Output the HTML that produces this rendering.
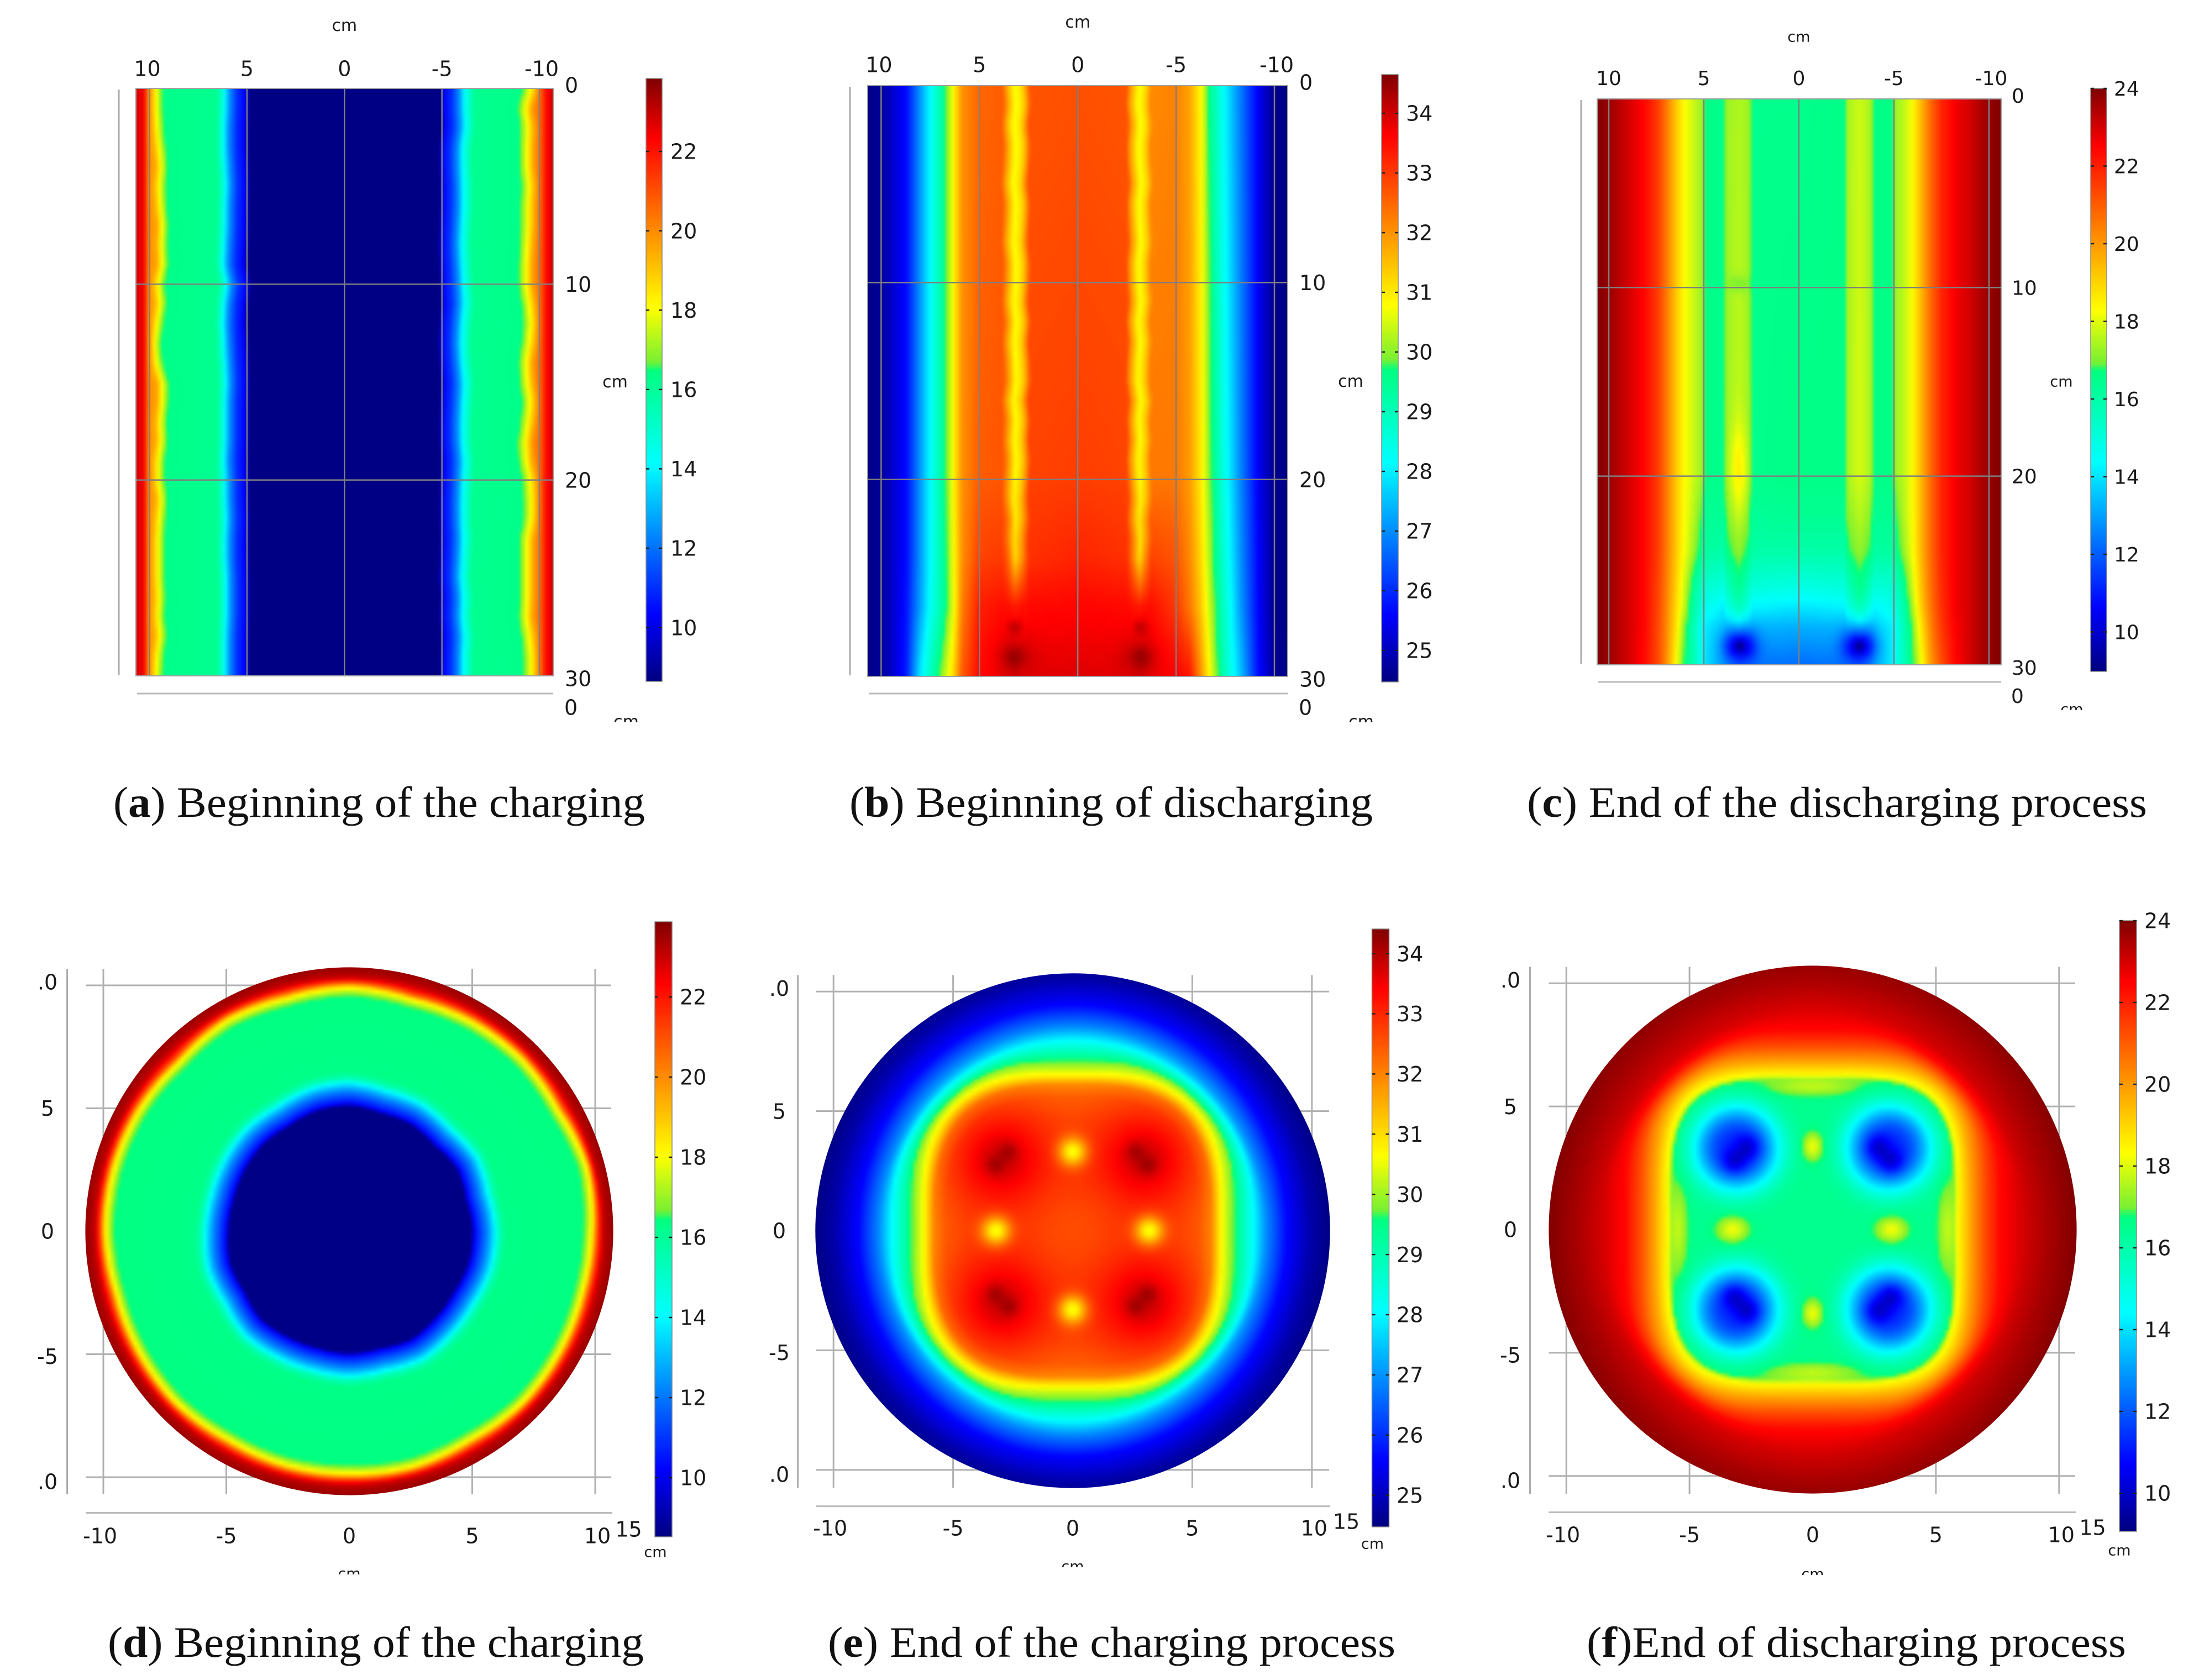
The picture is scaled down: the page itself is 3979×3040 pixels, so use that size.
<!DOCTYPE html>
<html lang="en">
<head>
<meta charset="utf-8">
<title>Temperature distribution during charging and discharging</title>
<style>
html,body{margin:0;padding:0;background:#fff;}
svg{display:block;}
.cap{font-family:"Liberation Serif",serif;font-size:78px;fill:#111;}
.cap tspan{font-weight:bold;}
.lbl{font-family:"DejaVu Sans",sans-serif;fill:#1a1a1a;}
</style>
</head>
<body>
<svg id="figure" xmlns="http://www.w3.org/2000/svg" width="3979" height="3040" viewBox="0 0 3979 3040">
<rect x="0" y="0" width="3979" height="3040" fill="#fff"/>
<g id="plots"></g>
<text class="cap" x="205" y="1478" textLength="962" lengthAdjust="spacingAndGlyphs">(<tspan>a</tspan>) Beginning of the charging</text>
<text class="cap" x="1537" y="1478" textLength="947" lengthAdjust="spacingAndGlyphs">(<tspan>b</tspan>) Beginning of discharging</text>
<text class="cap" x="2763" y="1478" textLength="1122" lengthAdjust="spacingAndGlyphs">(<tspan>c</tspan>) End of the discharging process</text>
<text class="cap" x="195" y="2998" textLength="970" lengthAdjust="spacingAndGlyphs">(<tspan>d</tspan>) Beginning of the charging</text>
<text class="cap" x="1498" y="2998" textLength="1027" lengthAdjust="spacingAndGlyphs">(<tspan>e</tspan>) End of the charging process</text>
<text class="cap" x="2871" y="2998" textLength="976" lengthAdjust="spacingAndGlyphs">(<tspan>f</tspan>)End of discharging process</text>
</svg>
<script>
// ---- colour scale ----
const cmapFractions=[0,0.11,0.36,0.515,0.53,0.62,0.76,0.9,1];
const cmapColors=[[0,0,128],[0,0,255],[0,255,255],[0,255,128],[120,240,50],[255,255,0],[255,128,0],[255,0,0],[128,0,0]];

// ---- shared ticks ----
const stripXTicks=[10,5,0,-5,-10];
const stripXLabels=['10','5','0','-5','-10'];
const stripDepthTicks=[0,10,20,30];
const stripDepthLabels=['0','10','20','30'];
const discXTicks=[-10,-5,0,5,10];
const discXLabels=['-10','-5','0','5','10'];
const discGridTicks=[-10,-5,5,10];
const discYTicks=[10,5,0,-5,-10];
const discYLabels=['.0','5','0','-5','.0'];

// ---- colour bar values ----
const barTicksAD=[22,20,18,16,14,12,10];
const barTicksBE=[34,33,32,31,30,29,28,27,26,25];
const barTicksCF=[24,22,20,18,16,14,12,10];

// ---- panel a: temperature across the width (cm), depth-invariant apart from front wobble ----
const aX=[10.7,10.3,10.05,9.9,9.65,9.45,9.35,9.2,6.6,6.3,6.15,5.9,5.5,5.1,4.97,4.85,-4.95,-5.02,-5.1,-5.5,-5.9,-6.15,-6.5,-6.7,-9.1,-9.3,-9.6,-9.85,-10.05,-10.3,-10.7];
const aDepths=[0,30];
const aTop=[22.8,22.5,20,19.5,18,17,16.6,16.3,16.2,15.2,14.1,12.5,11,10.3,9.5,8.7,8.7,9.5,10.3,11,12.5,14.1,15.5,16.2,16.3,16.9,18.2,19.5,20.6,22,22.9];
const aBottom=[22.8,22.5,20,19.5,18,17,16.6,16.3,16.2,15.2,14.1,12.5,11,10.3,9.5,8.7,8.7,9.5,10.3,11,12.5,14.1,15.5,16.2,16.3,16.9,18.2,19.5,20.6,22,22.9];
const aOuterLeft=[0,0,.05,.15,.25,.15,.2,.3,.25,.3,.1,.2,.05,-.1,0,.3,.3,.2,.25,.1,.1,.25,.15,.1,.1,.1,.15,.1,.2,.05,0];
const aInnerLeft=[0,0,-.05,-.05,0,.05,0,0,-.05,-.1,.1,-.05,-.1,-.05,0,.05,0,0,0,-.05,0,0,.05,0,0,.05,.05,.05,0,0,0];
const aInnerRight=[0,0,-.05,.1,.1,.05,.05,.1,.15,.1,.05,0,.1,.15,.1,0,.05,.1,.1,0,.05,.1,.1,.05,.1,.15,.05,.1,0,.05,.05];
const aOuterRight=[0,.3,.15,.2,.2,.1,.15,.15,.2,.25,.25,.1,0,.1,.25,.2,.05,.15,.3,.25,.05,0,0,.2,.2,.2,.2,.25,.1,0,0];

// ---- panel b ----
const bX=[10.7,10,9.35,8.7,8.06,7.52,6.77,6.34,5.9,5.04,3.85,3.55,3.2,2.85,2.62,2.46,0,-2.5,-2.7,-3.15,-3.5,-3.75,-5,-5.7,-6.27,-6.7,-7.46,-8.3,-9.18,-10,-10.7];
const bDepths=[0,20,24,26.5,30];
const bRow0=[24.5,24.7,25.2,25.7,27,28.1,29.6,30.8,32,32.5,32.6,31.6,30.7,31.2,32,32.7,32.75,32.7,31.9,30.7,31.3,32.1,32.2,31.8,30.8,29.6,28.1,26.8,25.5,24.6,24.5];
const bRow20=[24.5,24.7,25.2,25.7,27,28.1,29.6,30.8,32,32.6,32.7,31.9,30.8,31.4,32.2,32.9,32.95,32.9,32.1,30.8,31.5,32.3,32.3,31.9,31,30,28.4,26.9,25.5,24.6,24.5];
const bRow24=[24.5,24.7,25.2,25.7,27,28.1,29.5,30.7,32,32.9,33,32.5,31.2,32,32.7,33.1,33.25,33.1,32.6,31.2,32.2,32.9,32.7,32.1,31.2,30.2,28.6,27,25.6,24.6,24.5];
const bRow26=[24.5,24.7,25.2,25.8,27.1,28.2,29.5,30.6,32.2,33.3,33.5,33.5,33.4,33.5,33.5,33.55,33.6,33.55,33.5,33.4,33.5,33.5,33,32.3,31.4,30.4,28.8,27.1,25.6,24.6,24.5];
const bRow30=[24.5,24.7,25.2,25.9,27.8,28.9,30.3,31.2,32.6,33.5,33.7,33.75,33.8,33.75,33.75,33.8,33.9,33.8,33.75,33.8,33.75,33.7,33.6,33.4,32,30.8,29,27.5,25.7,24.7,24.5];
const bBandWobble=[0,.08,-.05,.06,.02,-.08,.05,0,-.06,.06,.03,-.05,.08,-.03,.05,.08,-.06,.05,-.02,.06,0,-.05,.05,-.03,.02,0,0,0,0,0,0];
const bSpots=[[3.2,27.5,.6,.25,.25],[-3.2,27.5,.6,.25,.25],[3.2,29,.55,.42,.42],[-3.2,29,.55,.42,.42],[3.2,29,.25,.95,.95],[-3.2,29,.25,.95,.95]];

// ---- panel c ----
const cX=[10.6,10,8.8,8.1,7.4,7,6.45,6.07,5.5,5.05,4.98,3.95,3.8,3.16,2.6,2.48,0,-2.45,-2.56,-3.2,-3.8,-3.92,-4.98,-5.05,-5.5,-5.93,-6.4,-6.95,-7.5,-8.2,-9.1,-9.9,-10.6];
const cDepths=[0,20,22,24,26,27,28,30];
const cRow0=[24,23.7,22.9,22.4,21.5,20.6,19.2,18.4,17.7,17.3,16.6,16.5,17.3,17.5,17.3,16.5,16.5,16.6,17.4,17.8,17.4,16.6,16.6,17.3,17.6,18.2,19.4,20.8,21.9,22.6,23.1,23.7,24];
const cRow20=[24,23.7,22.9,22.4,21.5,20.6,19.2,18.4,17.7,17.3,16.6,16.5,17.3,17.7,17.3,16.5,16.6,16.6,17.4,17.9,17.4,16.6,16.6,17.3,17.6,18.2,19.4,20.8,21.9,22.6,23.1,23.7,24];
const cRow22=[24,23.7,22.9,22.4,21.5,20.6,19.2,18.4,17.5,16.7,16.4,16.3,17,17.5,17,16.3,16.4,16.4,17.1,17.6,17.1,16.4,16.4,16.7,17.5,18.2,19.4,20.8,21.9,22.6,23.1,23.7,24];
const cRow24=[24,23.7,22.9,22.4,21.5,20.6,19.2,18.3,17.2,16.3,16.2,16,16.6,17.15,16.6,16,16,16,16.7,17.2,16.7,16.1,16.2,16.3,17.2,18.1,19.4,20.8,21.9,22.6,23.1,23.7,24];
const cRow26=[24,23.7,22.9,22.4,21.4,20.5,19,17.9,16.2,15.4,15.2,14.9,15.4,16.4,15.4,15,14.8,15,15.5,16.5,15.5,15,15.2,15.4,16.2,17.6,19.2,20.7,21.8,22.6,23.1,23.7,24];
const cRow27=[24,23.7,22.9,22.4,21.4,20.4,18.9,17.8,15.9,15,14.8,14.1,14.8,15.6,14.8,14.2,14,14.2,14.8,15.7,14.8,14.2,14.8,15,15.9,17.2,19,20.6,21.7,22.6,23.1,23.7,24];
const cRow28=[24,23.7,22.9,22.4,21.3,20.4,18.7,17.2,15.6,14.4,14.1,13.6,13.5,14,13.5,13.3,13.2,13.3,13.5,14,13.5,13.6,14.2,14.5,15.7,16.8,18.6,20.4,21.6,22.5,23.1,23.7,24];
const cRow30=[24,23.7,22.9,22.3,21.3,20.3,18.3,16.8,15.7,14.4,14,13,12.9,12.6,12.5,12.4,12.2,12.4,12.5,12.6,12.9,13.1,14.2,14.6,15.6,16.5,18,20,21.2,22.4,23.1,23.7,24];
const cSpots=[[3.11,28.97,-3.5,.58,.58],[-3.19,28.97,-3.5,.58,.58],[3.11,28.97,-1,.13,.13],[-3.19,28.97,-1,.13,.13],[3.16,19.6,.9,.3,1.6],[3.16,9.8,-.6,.35,.3]];

// ---- panel d: temperature by radius (cm) and front wobble by angle (every 15 degrees) ----
const dRadius=[0,4.98,5.1,5.3,5.6,5.85,5.98,6.15,6.4,9.55,9.7,9.85,10,10.16,10.3,10.45,10.75];
const dTemp=[8.6,8.6,10.2,11,12.2,13.5,14.4,15.6,16.3,16.4,16.7,17.6,18.6,21.2,22.8,23.3,23.6];
const dOuterWobble=[.1,-.05,.15,.05,.1,.2,.05,.15,.05,.2,.1,.05,.05,.15,.1,.05,.15,.1,.1,.05,.15,.05,.1,.15];
const dInnerWobble=[0,.1,-.05,.1,0,.05,-.1,-.05,.1,.05,.1,.15,.1,0,.1,-.05,.05,.1,.05,.1,-.05,.05,.1,0];

// ---- panel e: temperature by squircle radius, plus local spots ----
const eRadius=[0,4.5,5.3,5.8,6.15,6.5,6.8,7.2,7.55,8.1,8.95,10,10.76];
const eTemp=[32.3,32.3,32.2,31.8,30.7,30,29.5,28.7,28.05,26.9,25.6,24.8,24.5];
const eSpots=[[-3,3,1.2,1.8,1.8],[3,3,1.2,1.8,1.8],[-3,-3,1.2,1.8,1.8],[3,-3,1.2,1.8,1.8],
[-2.95,3,.3,.8,.8],[2.95,3,.3,.8,.8],[-2.95,-3,.3,.8,.8],[2.95,-3,.3,.8,.8],
[-2.68,3.32,.4,.27,.27],[-3.25,2.72,.4,.27,.27],[2.6,3.32,.4,.27,.27],[3.15,2.72,.4,.27,.27],
[-3.25,-2.63,.4,.27,.27],[-2.65,-3.19,.4,.27,.27],[3.15,-2.63,.4,.27,.27],[2.6,-3.19,.4,.27,.27],
[0,3.3,-2.3,.42,.42],[0,-3.3,-2.3,.42,.42],[-3.2,0,-2.3,.42,.42],[3.2,0,-2.3,.42,.42]];

// ---- panel f (sixth spot value, when present, is a flat-topped falloff power) ----
const fRadius=[0,4.8,5.55,5.72,5.9,6.4,7,7.6,8.5,9.5,10.75];
const fTemp=[16.5,16.5,16.7,16.9,18.3,19.8,21.3,22.4,23,23.5,24];
const fSpots=[[-3.09,3.3,-5.2,1.75,1.75,3],[3.1,3.3,-5.2,1.75,1.75,3],[-3.09,-3.25,-5.2,1.75,1.75,3],[3.1,-3.25,-5.2,1.75,1.75,3],
[-3.18,2.75,-1.3,.35,.35],[-2.63,3.35,-1.3,.35,.35],[2.64,3.35,-1.3,.35,.35],[3.2,2.75,-1.3,.35,.35],
[-3.18,-2.7,-1.3,.35,.35],[-2.63,-3.31,-1.3,.35,.35],[3.2,-2.7,-1.3,.35,.35],[2.64,-3.31,-1.3,.35,.35],
[-3.25,0,1.7,.42,.35],[3.2,0,1.7,.42,.35],[0,3.37,1.7,.28,.38],[0,-3.4,1.7,.28,.38],
[0,5.8,1,1.2,.25],[0,-5.8,1,1.2,.25],[5.45,0,1,.25,1.2],[-5.45,0,1,.25,1.2]];

// ---- helpers ----
const NS='http://www.w3.org/2000/svg';
const plots=document.getElementById('plots');
const defs=document.createElementNS(NS,'defs');
plots.appendChild(defs);
const colourCache=new Map();
function interp(ks,vs,v){
  const n=ks.length,desc=ks[0]>ks[n-1];
  if(desc?v>=ks[0]:v<=ks[0])return vs[0];
  if(desc?v<=ks[n-1]:v>=ks[n-1])return vs[n-1];
  for(let i=0;i<n-1;i++){
    const a=ks[i],b=ks[i+1];
    if(desc?(v<=a&&v>=b):(v>=a&&v<=b))return vs[i]+(vs[i+1]-vs[i])*(v-a)/(b-a);
  }
  return vs[n-1];
}
function colourAt(f){
  f=Math.max(0,Math.min(1,f));
  const q=Math.round(f*600);
  if(colourCache.has(q))return colourCache.get(q);
  const g=q/600;
  let i=0;
  while(i<cmapFractions.length-2&&g>cmapFractions[i+1])i++;
  const t=(g-cmapFractions[i])/(cmapFractions[i+1]-cmapFractions[i]);
  const a=cmapColors[i],b=cmapColors[i+1];
  const s='rgb('+Math.round(a[0]+(b[0]-a[0])*t)+','+Math.round(a[1]+(b[1]-a[1])*t)+','+Math.round(a[2]+(b[2]-a[2])*t)+')';
  colourCache.set(q,s);
  return s;
}
function spotSum(spots,x,y){
  let s=0;
  for(const p of spots){
    const dx=(x-p[0])/p[3],dy=(y-p[1])/p[4];
    const q=dx*dx+dy*dy;
    const e=p[5]?Math.pow(q,p[5]/2):q/2;
    if(e<12)s+=p[2]*Math.exp(-e);
  }
  return s;
}
function addLine(parent,x1,y1,x2,y2,colour,width,name){
  const el=document.createElementNS(NS,'line');
  el.setAttribute('x1',x1);el.setAttribute('y1',y1);el.setAttribute('x2',x2);el.setAttribute('y2',y2);
  el.setAttribute('stroke',colour);el.setAttribute('stroke-width',width);
  
  
  parent.appendChild(el);
}
function addText(parent,str,x,cy,size,anchor,name){
  const el=document.createElementNS(NS,'text');
  el.setAttribute('class','lbl');
  el.setAttribute('x',x);el.setAttribute('y',cy+size*0.36);
  el.setAttribute('font-size',size);el.setAttribute('text-anchor',anchor);
  
  
  el.textContent=str;
  parent.appendChild(el);
  return el;
}
function addCell(parent,x,y,w,h,fill){
  const el=document.createElementNS(NS,'rect');
  el.setAttribute('x',x);el.setAttribute('y',y);el.setAttribute('width',w);el.setAttribute('height',h);
  el.setAttribute('fill',fill);
  
  
  parent.appendChild(el);
}
function makeGroup(parent,name){
  const g=document.createElementNS(NS,'g');
  
  
  parent.appendChild(g);
  return g;
}
function makeBlur(id,sx,sy){
  const f=document.createElementNS(NS,'filter');
  f.setAttribute('id',id);
  f.setAttribute('x','-5%');f.setAttribute('y','-5%');f.setAttribute('width','110%');f.setAttribute('height','110%');
  f.setAttribute('color-interpolation-filters','sRGB');
  const b=document.createElementNS(NS,'feGaussianBlur');
  b.setAttribute('stdDeviation',sx+' '+sy);
  f.appendChild(b);
  defs.appendChild(f);
}
function makeClip(id,shape,attrs){
  const c=document.createElementNS(NS,'clipPath');
  c.setAttribute('id',id);
  const s=document.createElementNS(NS,shape);
  for(const k in attrs)s.setAttribute(k,attrs[k]);
  c.appendChild(s);
  defs.appendChild(c);
}
function drawBar(root,p){
  const b=p.bar;
  const g=makeGroup(root,'colorbar-'+p.id);
  const yOf=v=>b.yRef+(b.vRef-v)*b.pxPerDeg;
  const top=Math.round(yOf(b.max)),bot=Math.round(yOf(b.min));
  for(let y=top;y<bot;y+=4){
    const v=b.max-(y+2-top)/(bot-top)*(b.max-b.min);
    addCell(g,b.x,y,b.w,Math.min(4,bot-y),colourAt((v-b.min)/(b.max-b.min)));
  }
  const frame=document.createElementNS(NS,'rect');
  frame.setAttribute('x',b.x);frame.setAttribute('y',top);frame.setAttribute('width',b.w);frame.setAttribute('height',bot-top);
  frame.setAttribute('fill','none');frame.setAttribute('stroke','#8a8a8a');frame.setAttribute('stroke-width','1.5');
  
  
  g.appendChild(frame);
  for(const v of b.ticks){
    const y=yOf(v);
    addLine(g,b.x,y,b.x+6,y,'#222',2.5,'colorbar-tick');
    addLine(g,b.x+b.w-6,y,b.x+b.w,y,'#222',2.5,'colorbar-tick');
    addText(g,String(v),b.labelX,y,b.font,'start','colorbar-label');
  }
}
function clippedCm(root,p,x,clipY){
  const id='cmclip'+p.id;
  makeClip(id,'rect',{x:x-60,y:clipY-40,width:120,height:40});
  const g=makeGroup(root,'clipped-axis-title');
  g.setAttribute('clip-path','url(#'+id+')');
  const el=addText(g,'cm',x,clipY-2,p.cmFont,'middle','clipped-cm-label');
  el.setAttribute('fill','#333');
}

// ---- strip (longitudinal section) panels ----
function stripTemp(p,x,d){
  let xe=x;
  const arr=p.pick?p.pick(x):null;
  if(arr){
    const s=interp(p.wobbleDepths,arr,d)*p.edgeFade(x);
    xe=x>=0?x+s:x-s;
  }
  const ds=p.depths;
  let i=0;
  while(i<ds.length-2&&d>ds[i+1])i++;
  const t=Math.max(0,Math.min(1,(d-ds[i])/(ds[i+1]-ds[i])));
  const v0=interp(p.xs,p.rows[i],xe),v1=interp(p.xs,p.rows[i+1],xe);
  let v=v0+(v1-v0)*t;
  if(p.spots)v+=spotSum(p.spots,x,d);
  return v;
}
function drawStrip(p){
  const root=makeGroup(plots,'panel-'+p.id);
  const xOf=c=>p.x10+(10-c)*p.kx;
  const yOf=d=>p.y0+d*p.ky;
  const clipId='clip'+p.id,blurId='blur'+p.id;
  makeClip(clipId,'rect',{x:p.left,y:p.y0,width:p.right-p.left,height:yOf(30)-p.y0});
  makeBlur(blurId,2,5);
  const outer=makeGroup(root,'heatmap-'+p.id);
  outer.setAttribute('clip-path','url(#'+clipId+')');
  const inner=makeGroup(outer,'heat-cells-'+p.id);
  inner.setAttribute('filter','url(#'+blurId+')');
  const cw=5,ch=12;
  const bot=Math.round(yOf(30));
  for(let py=p.y0-ch*2;py<bot+ch*2;py+=ch){
    const d=(py+ch/2-p.y0)/p.ky;
    let runStart=p.left-cw*3,runCol=null;
    for(let px=p.left-cw*3;px<=p.right+cw*3;px+=cw){
      const c=10-(px+cw/2-p.x10)/p.kx;
      const col=colourAt((stripTemp(p,c,Math.max(0,Math.min(30,d)))-p.bar.min)/(p.bar.max-p.bar.min));
      if(col!==runCol){
        if(runCol)addCell(inner,runStart,py,px-runStart,ch,runCol);
        runStart=px;runCol=col;
      }
    }
    addCell(inner,runStart,py,p.right+cw*4-runStart,ch,runCol);
  }
  const grid=makeGroup(root,'grid-'+p.id);
  stripXTicks.forEach(v=>addLine(grid,xOf(v),p.y0,xOf(v),bot,'#7f7f7f',2.5,'vertical-gridline'));
  stripDepthTicks.slice(1,3).forEach(v=>addLine(grid,p.left,yOf(v),p.right,yOf(v),'#7f7f7f',2.5,'horizontal-gridline'));
  const fr=document.createElementNS(NS,'rect');
  fr.setAttribute('x',p.left);fr.setAttribute('y',p.y0);fr.setAttribute('width',p.right-p.left);fr.setAttribute('height',bot-p.y0);
  fr.setAttribute('fill','none');fr.setAttribute('stroke','#a0a0a0');fr.setAttribute('stroke-width','2');
  
  
  grid.appendChild(fr);
  addLine(root,p.axisX,p.y0+2,p.axisX,bot-2,'#aaaaaa',3,'left-axis-line');
  addLine(root,p.left+2,p.bottomLine,p.right,p.bottomLine,'#bbbbbb',3,'bottom-axis-line');
  const labels=makeGroup(root,'axis-labels-'+p.id);
  stripXTicks.forEach((v,i)=>addText(labels,stripXLabels[i],xOf(v)+(v>5?p.lab10:v<-5?4:0),p.topLabelY,p.font,'middle','x-tick-label'));
  stripDepthTicks.forEach((v,i)=>addText(labels,stripDepthLabels[i],p.depthLabelX,yOf(v)+(v===30?5:v===0?-6:0),p.font,'start','depth-tick-label'));
  addText(labels,'cm',xOf(0),p.topCmY,p.cmFont,'middle','x-axis-title');
  addText(labels,'cm',p.sideCmX,p.sideCmY,p.cmFont,'middle','depth-axis-title');
  addText(labels,'0',p.depthLabelX-1,p.bottomLine+25,p.font,'start','bottom-axis-tick-label');
  clippedCm(root,p,p.clipCmX,p.clipCmY);
  drawBar(root,p);
}

// ---- disc (cross-section) panels ----
function squircleRadius(p,x,y){
  const ys=y*p.ySquash;
  const r=Math.hypot(x,y);
  const a=Math.max(0,Math.min(1,(p.rOuter-r)/(p.rOuter-p.rInner)));
  const e=2+(p.pInner-2)*a*a*(3-2*a);
  return Math.pow(Math.pow(Math.abs(x),e)+Math.pow(Math.abs(ys),e),1/e);
}
function discTemp(p,x,y){
  if(p.id==='d'){
    const r=Math.hypot(x,y);
    let ang=Math.atan2(y,x)/(Math.PI*2);
    if(ang<0)ang+=1;
    const pos=ang*24,i=Math.floor(pos)%24,j=(i+1)%24,t=pos-Math.floor(pos);
    if(r>8){
      const w=dOuterWobble[i]*(1-t)+dOuterWobble[j]*t;
      return interp(dRadius,dTemp,r+w*Math.max(0,Math.min(1,(10.4-r)/.5)));
    }
    const w=dInnerWobble[i]*(1-t)+dInnerWobble[j]*t;
    return interp(dRadius,dTemp,r+w);
  }
  return interp(p.radius,p.temp,squircleRadius(p,x,y))+spotSum(p.spots,x,y);
}
function drawDisc(p){
  const root=makeGroup(plots,'panel-'+p.id);
  const xOf=c=>p.cx+c*p.k;
  const yOf=c=>p.cy-c*p.k;
  const grid=makeGroup(root,'grid-'+p.id);
  discGridTicks.forEach(v=>addLine(grid,xOf(v),p.gridTop,xOf(v),p.gridBottom,'#b0b0b0',3,'vertical-gridline'));
  discGridTicks.forEach(v=>addLine(grid,p.gridLeft,yOf(v),p.gridRight,yOf(v),'#b0b0b0',3,'horizontal-gridline'));
  addLine(root,p.axisX,p.gridTop,p.axisX,p.gridBottom,'#aaaaaa',3,'left-axis-line');
  addLine(root,p.gridLeft,p.bottomLine,p.gridRight+2,p.bottomLine,'#bbbbbb',3,'bottom-axis-line');
  const clipId='clip'+p.id,blurId='blur'+p.id;
  makeClip(clipId,'circle',{cx:p.cx,cy:p.cy,r:p.r});
  makeBlur(blurId,2.5,2.5);
  const outer=makeGroup(root,'heatmap-'+p.id);
  outer.setAttribute('clip-path','url(#'+clipId+')');
  const inner=makeGroup(outer,'heat-cells-'+p.id);
  inner.setAttribute('filter','url(#'+blurId+')');
  const cs=6,R=Math.ceil(p.r)+cs*3;
  for(let py=p.cy-R;py<p.cy+R;py+=cs){
    const dy=py+cs/2-p.cy;
    if(Math.abs(dy)>R)continue;
    const half=Math.ceil(Math.sqrt(R*R-dy*dy)/cs)*cs;
    const xa=p.cx-half,xb=p.cx+half;
    let runStart=xa,runCol=null;
    for(let px=xa;px<xb;px+=cs){
      const col=colourAt((discTemp(p,(px+cs/2-p.cx)/p.k,-dy/p.k)-p.bar.min)/(p.bar.max-p.bar.min));
      if(col!==runCol){
        if(runCol)addCell(inner,runStart,py,px-runStart,cs,runCol);
        runStart=px;runCol=col;
      }
    }
    addCell(inner,runStart,py,xb-runStart,cs,runCol);
  }
  const labels=makeGroup(root,'axis-labels-'+p.id);
  discXTicks.forEach((v,i)=>addText(labels,discXLabels[i],xOf(v)+(v===-10?-6:v===10?4:0),p.xLabelY,p.font,'middle','x-tick-label'));
  discYTicks.forEach((v,i)=>addText(labels,discYLabels[i],p.yLabelX,yOf(v)+(v===10?-6:v===-10?8:v===-5?4:0),p.font,'middle','y-tick-label'));
  addText(labels,'15',p.x15,p.y15,p.font,'middle','x-tick-label-15');
  addText(labels,'cm',p.cmX,p.cmY,p.cmFont,'middle','colorbar-unit-label');
  clippedCm(root,p,p.cx,p.clipCmY);
  drawBar(root,p);
}

// ---- panel layouts ----
drawStrip({id:'a',xs:aX,depths:aDepths,rows:[aTop,aBottom],
  wobbleDepths:Array.from(Array(31).keys()),
  pick:x=>x>7.5?aOuterLeft:x>0?aInnerLeft:x>-7.5?aInnerRight:aOuterRight,
  edgeFade:x=>Math.max(0,Math.min(1,(10.1-Math.abs(x))/.5)),
  left:246,right:1001,x10:270.5,kx:35.28,y0:160,ky:35.43,axisX:215,bottomLine:1255,topLabelY:124,topCmY:45,lab10:-4,
  depthLabelX:1022,sideCmX:1113,sideCmY:690,clipCmX:1133,clipCmY:1307,font:38,cmFont:30,
  bar:{x:1169,w:29,yRef:274,vRef:22,pxPerDeg:71.8,min:8.64,max:23.84,ticks:barTicksAD,labelX:1213,font:38}});
drawStrip({id:'b',xs:bX,depths:bDepths,rows:[bRow0,bRow20,bRow24,bRow26,bRow30],spots:bSpots,
  wobbleDepths:Array.from(Array(31).keys()),
  pick:x=>Math.abs(x)<4.3&&Math.abs(x)>2?bBandWobble:null,
  edgeFade:x=>1,
  left:1570,right:2330,x10:1594.4,kx:35.58,y0:155,ky:35.63,axisX:1538,bottomLine:1255,topLabelY:117,topCmY:39,lab10:-4,
  depthLabelX:2351,sideCmX:2444,sideCmY:689,clipCmX:2463,clipCmY:1307,font:38,cmFont:30,
  bar:{x:2500,w:30,yRef:205,vRef:34,pxPerDeg:108,min:24.47,max:34.65,ticks:barTicksBE,labelX:2544,font:38}});
drawStrip({id:'c',xs:cX,depths:cDepths,rows:[cRow0,cRow20,cRow22,cRow24,cRow26,cRow27,cRow28,cRow30],spots:cSpots,
  left:2890,right:3621,x10:2911,kx:34.4,y0:179,ky:34.13,axisX:2861,bottomLine:1234,topLabelY:141,topCmY:66,lab10:0,
  depthLabelX:3640,sideCmX:3730,sideCmY:690,clipCmX:3749,clipCmY:1285,font:36,cmFont:27,
  bar:{x:3783,w:29,yRef:300.5,vRef:22,pxPerDeg:70.25,min:8.98,max:24,ticks:barTicksCF,labelX:3825,font:36}});
drawDisc({id:'d',cx:632,cy:2228,r:477.6,k:44.5,gridTop:1753,gridBottom:2704,gridLeft:155.4,gridRight:1106,axisX:121.6,bottomLine:2737.5,
  xLabelY:2779,yLabelX:86,x15:1137.5,y15:2767,cmX:1186,cmY:2808,clipCmY:2849,font:38,cmFont:27,
  bar:{x:1185,w:31,yRef:1804,vRef:22,pxPerDeg:72.5,min:8.52,max:23.88,ticks:barTicksAD,labelX:1230,font:38}});
drawDisc({id:'e',cx:1941,cy:2227,r:465.7,k:43.28,radius:eRadius,temp:eTemp,spots:eSpots,ySquash:.95,pInner:2.9,rInner:6.9,rOuter:8.2,
  gridTop:1764.4,gridBottom:2692,gridLeft:1476.5,gridRight:2405,axisX:1443.7,bottomLine:2725.6,
  xLabelY:2765,yLabelX:1410,x15:2436,y15:2753,cmX:2483.5,cmY:2793,clipCmY:2836,font:38,cmFont:27,
  bar:{x:2482.5,w:31,yRef:1725.6,vRef:34,pxPerDeg:108.9,min:24.47,max:34.41,ticks:barTicksBE,labelX:2527,font:38}});
drawDisc({id:'f',cx:3280,cy:2225,r:477.6,k:44.58,radius:fRadius,temp:fTemp,spots:fSpots,ySquash:.94,pInner:4,rInner:7.4,rOuter:9,
  gridTop:1749.5,gridBottom:2703,gridLeft:2802.4,gridRight:3755,axisX:2768.6,bottomLine:2736.5,
  xLabelY:2777,yLabelX:2733,x15:3786.5,y15:2764,cmX:3835,cmY:2805,clipCmY:2850,font:38,cmFont:27,
  bar:{x:3835,w:31,yRef:1814,vRef:22,pxPerDeg:74,min:9.07,max:24,ticks:barTicksCF,labelX:3880,font:38}});
</script>
</body>
</html>
